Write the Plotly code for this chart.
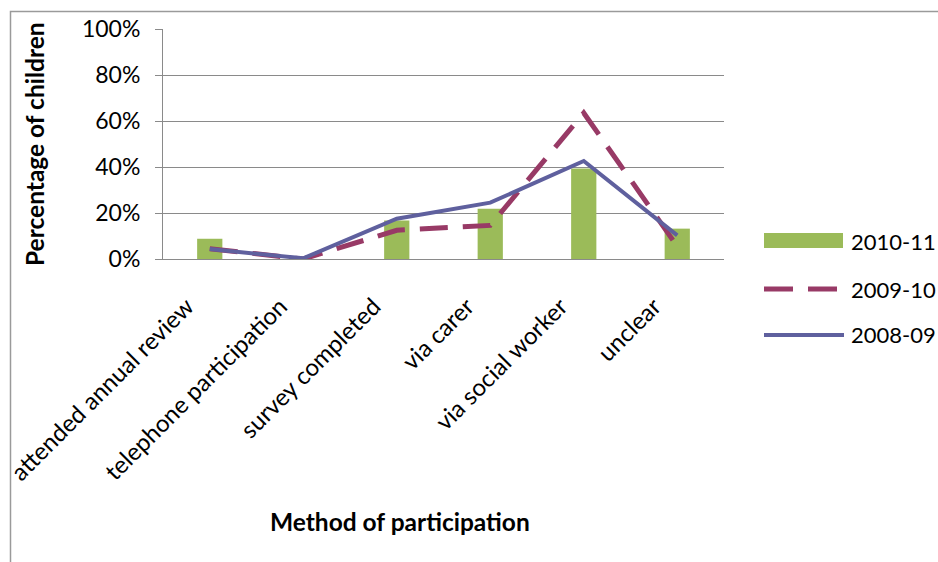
import plotly.graph_objects as go

categories = ["attended annual review", "telephone participation", "survey completed",
              "via carer", "via social worker", "unclear"]
y2010_11 = [0.088, 0.0, 0.167, 0.219, 0.393, 0.132]
y2009_10 = [0.045, 0.0, 0.125, 0.146, 0.635, 0.055]
y2008_09 = [0.043, 0.003, 0.175, 0.245, 0.426, 0.103]
series_names = ["2010-11", "2009-10", "2008-09"]
y_ticks = [0, 0.2, 0.4, 0.6, 0.8, 1.0]

W, H = 938, 562
L, R, T, B = 163, 724, 29, 259
FONT = "Lato"
GREEN, MAROON, SLATE = "#9BBB59", "#983A66", "#5F609E"
GRID = "#8A8A8A"


def px(x):
    return (x - L) / (R - L)


def py(y):
    return (B - y) / (B - T)


fig = go.Figure()
fig.add_trace(go.Bar(x=categories, y=y2010_11, name=series_names[0],
                     marker=dict(color=GREEN, line=dict(width=0)), width=0.27))
fig.add_trace(go.Scatter(x=categories, y=y2009_10, name=series_names[1], mode="lines",
                         line=dict(color=MAROON, width=5, dash="28px,15px")))
fig.add_trace(go.Scatter(x=categories, y=y2008_09, name=series_names[2], mode="lines",
                         line=dict(color=SLATE, width=4)))

fig.update_layout(
    width=W, height=H,
    margin=dict(l=L, r=W - R, t=T, b=H - B, pad=0, autoexpand=False),
    paper_bgcolor="white", plot_bgcolor="white",
    showlegend=False,
    font=dict(family=FONT, color="#000000", size=23),
    xaxis=dict(
        type="category", range=[-0.5, 5.5], tickangle=-45, automargin=False,
        showline=True, linecolor=GRID, linewidth=1, showgrid=False,
        ticks="", tickfont=dict(size=24, family=FONT), zeroline=False,
        ticklabelstandoff=23, ticklabelshift=-23,
    ),
    yaxis=dict(
        range=[0, 1], tickvals=y_ticks, tickformat=".0%", automargin=False,
        showgrid=True, gridcolor=GRID, gridwidth=1,
        showline=True, linecolor=GRID, linewidth=1,
        ticks="outside", ticklen=7, tickcolor=GRID, ticklabelstandoff=10,
        tickfont=dict(size=23, family=FONT), zeroline=False,
    ),
)

shapes = []
# chart border
shapes.append(dict(type="rect", xref="paper", yref="paper",
                   x0=px(10.5), x1=px(1000), y0=py(11.5), y1=py(700),
                   line=dict(color="#9A9A9A", width=1.5), fillcolor="rgba(0,0,0,0)", layer="below"))
# legend swatches
shapes.append(dict(type="rect", xref="paper", yref="paper",
                   x0=px(764), x1=px(843), y0=py(233), y1=py(248),
                   fillcolor=GREEN, line=dict(width=0)))
shapes.append(dict(type="line", xref="paper", yref="paper",
                   x0=px(764), x1=px(838), y0=py(289), y1=py(289),
                   line=dict(color=MAROON, width=5, dash="29px,15px")))
shapes.append(dict(type="line", xref="paper", yref="paper",
                   x0=px(764), x1=px(844), y0=py(335), y1=py(335),
                   line=dict(color=SLATE, width=4)))

annotations = []
for name, yy in zip(series_names, [241, 289, 335]):
    annotations.append(dict(text=name, xref="paper", yref="paper", x=px(849), y=py(yy),
                            xanchor="left", yanchor="middle", showarrow=False,
                            font=dict(size=22, family=FONT)))
annotations.append(dict(text="<b>Percentage of children</b>", xref="paper", yref="paper",
                        x=px(34), y=py(144), textangle=-90, xanchor="center", yanchor="middle",
                        showarrow=False, font=dict(size=24.5, family=FONT)))
annotations.append(dict(text="<b>Method of participation</b>", xref="paper", yref="paper",
                        x=px(400), y=py(521), xanchor="center", yanchor="middle",
                        showarrow=False, font=dict(size=24.5, family=FONT)))

fig.update_layout(shapes=shapes, annotations=annotations)
fig.write_html("out.html")
